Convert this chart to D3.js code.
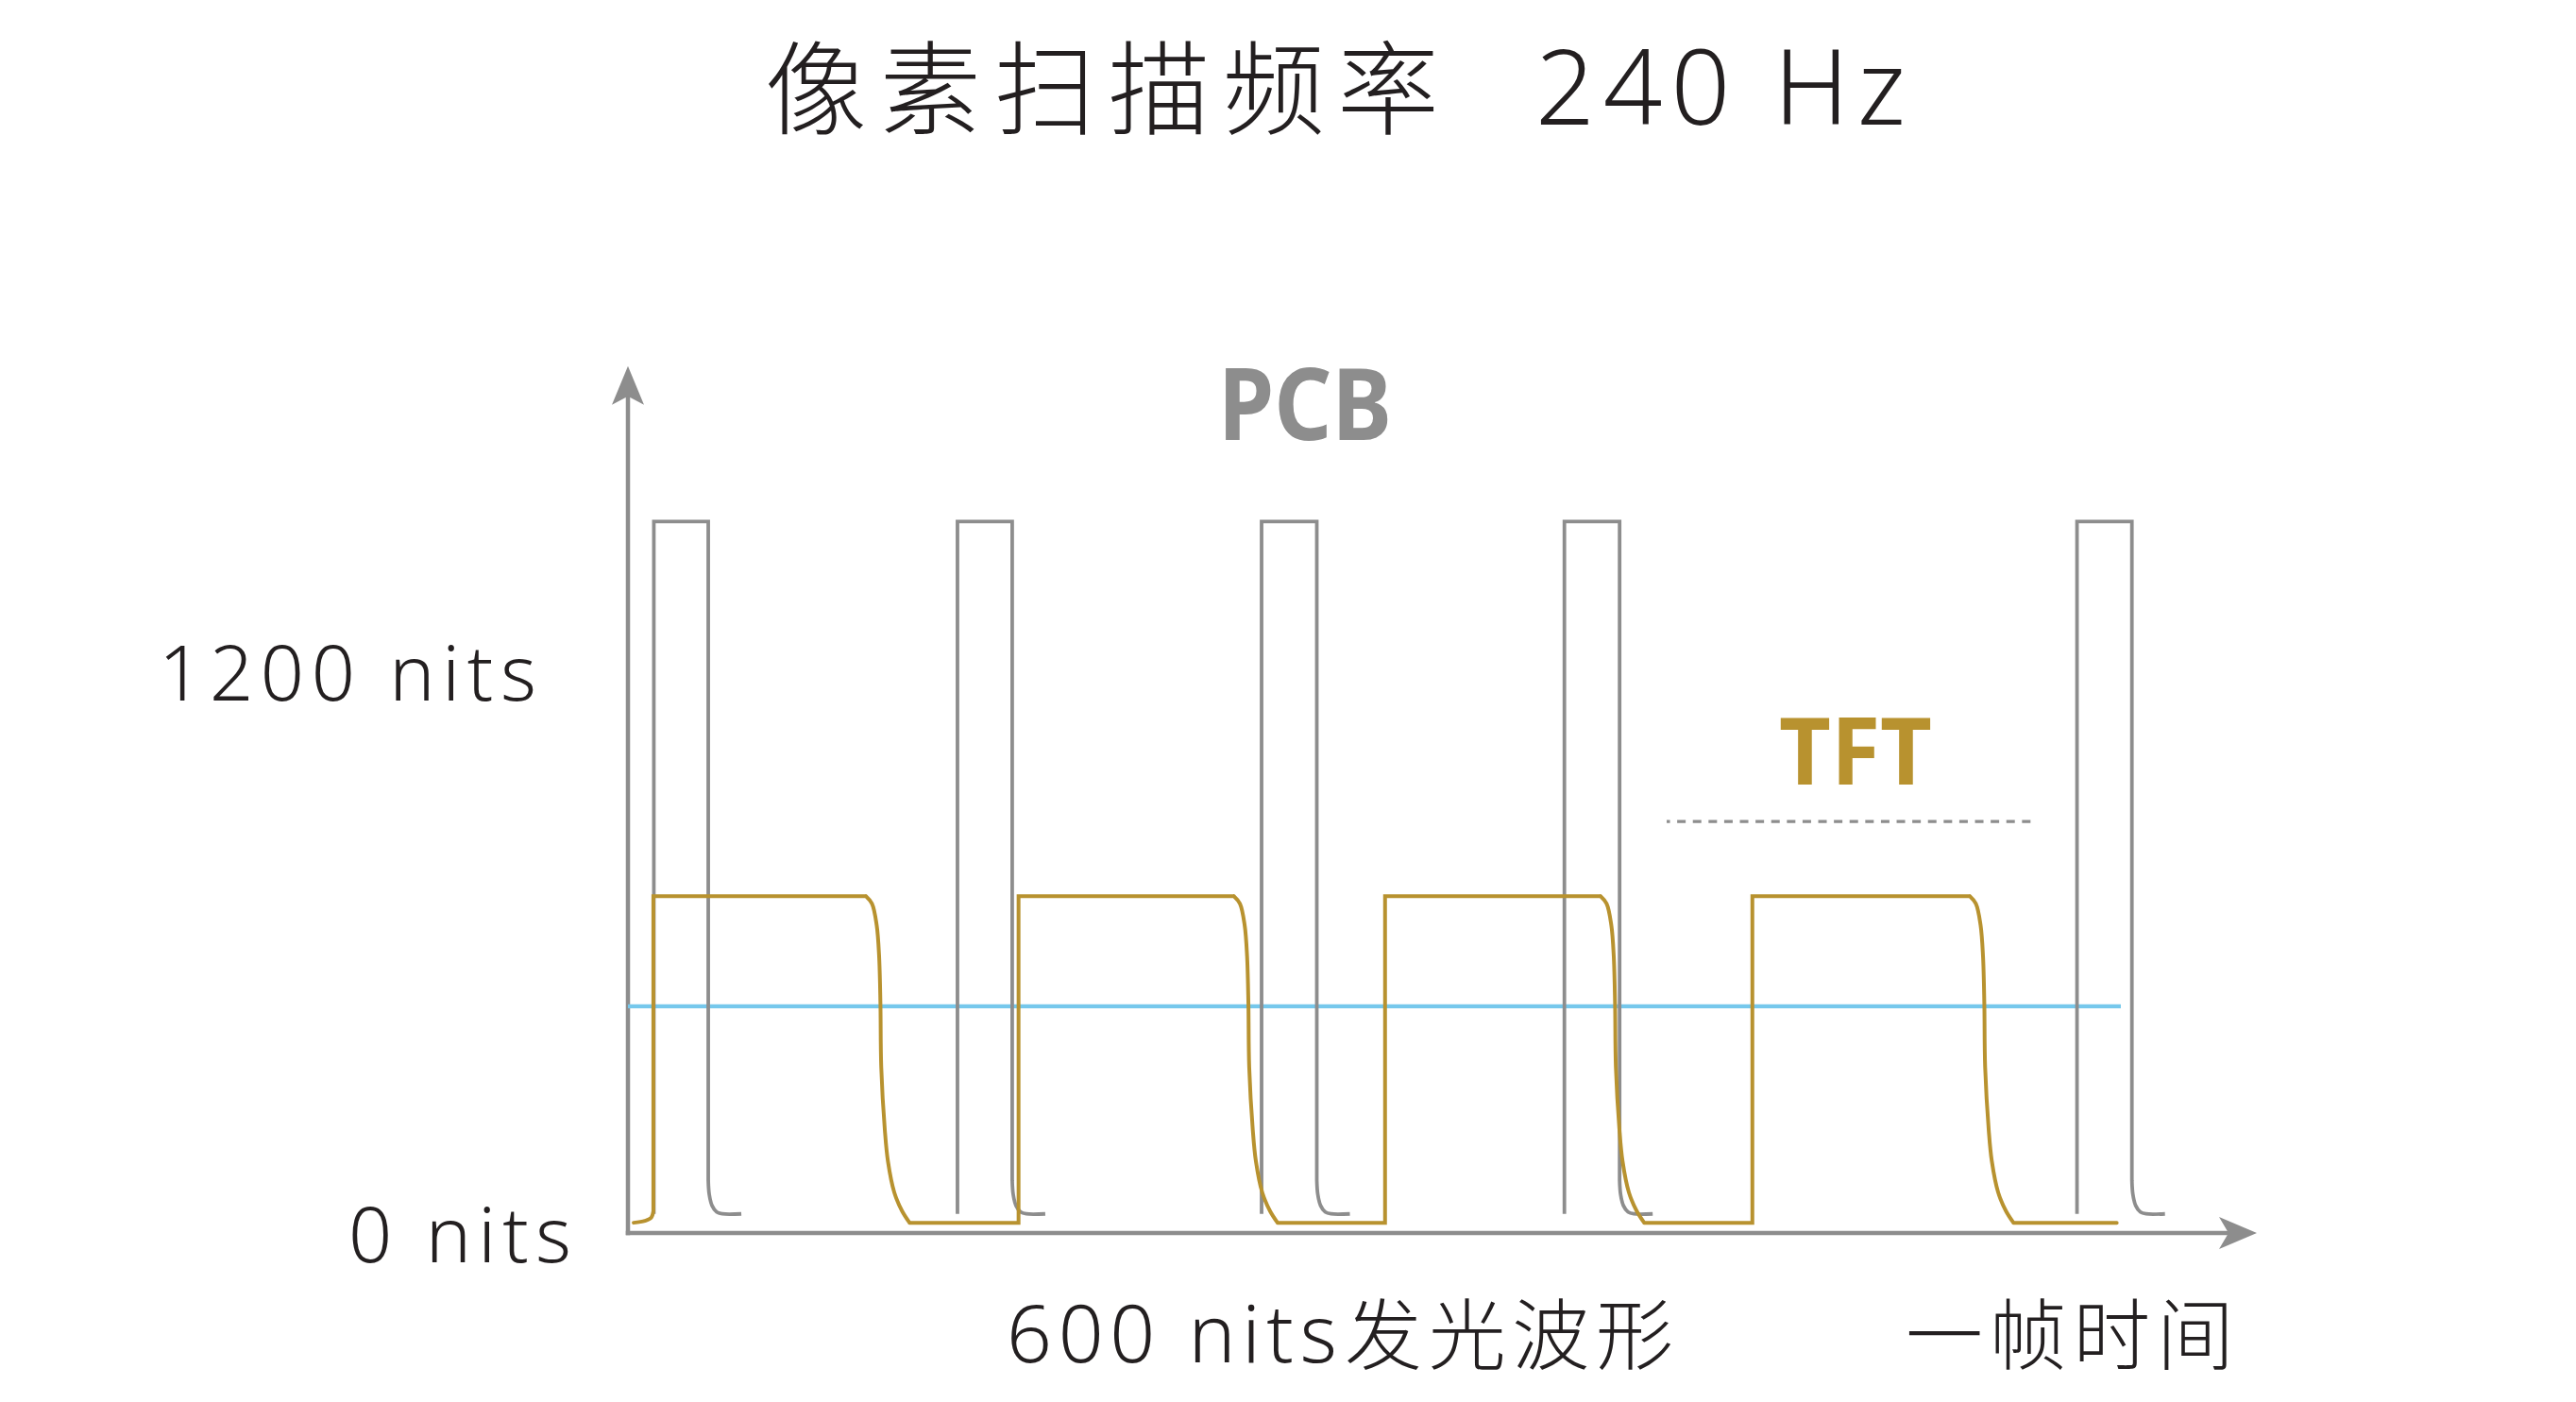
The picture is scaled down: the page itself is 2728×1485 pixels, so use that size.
<!DOCTYPE html>
<html>
<head>
<meta charset="utf-8">
<script src="https://cdn.jsdelivr.net/npm/d3@7"></script>
<style>
html, body { margin: 0; padding: 0; background: #ffffff; }
svg { display: block; }
</style>
</head>
<body>
<svg id="chart" width="2728" height="1485"></svg>
<script>
// ---------------- DATA ----------------
// y axis: brightness in nits; x axis: time (arbitrary units across one frame, 0..1000)
const yTickValues = [0, 1200];
const yTickLabels = ["0 nits", "1200 nits"];
const yAxisMax = 1858;          // where the y-axis arrow ends
const xAxisMax = 1000;          // where the x-axis arrow ends

// PCB (grey) pulses
const pcbStart = [15.9, 202.3, 389.0, 574.9, 889.6];
const pcbEnd   = [49.3, 235.9, 422.9, 608.8, 923.3];
const pcbPeak  = 1525;
const pcbBase  = 41;
// decay tail after each pulse end: [time offset, nits]
const pcbTail  = [[0, 113], [0.6, 83], [2.3, 59], [5.2, 45], [8.7, 41], [20.3, 41]];

// TFT (gold) waveform
const tftRise = [15.6, 239.8, 464.8, 690.3];
const tftFall = [146.1, 372.0, 597.1, 823.8];
const tftHigh = 722;
const tftLow  = 22;
const tftEnd  = 914;
// initial hook before first rise: [time, nits]
const tftLead = [[3.5, 22], [10.4, 26], [14.3, 33], [15.6, 47]];
// shape of each falling edge: [time offset from fall start, nits]
const tftFallShape = [[0, 722], [3.7, 706], [6.6, 660], [8.1, 593], [8.9, 492], [9.4, 356],
                      [11.6, 221], [13.5, 154], [17.4, 87], [22.2, 47], [26.8, 22]];

// 600 nits average (blue) line
const avgLevel = 486;
const avgEnd   = 916.5;

// dotted reference line under "TFT"
const dashLevel = 882;
const dashRange = [637.7, 863.2];

// ---------------- STYLE ----------------
const GREY = "#8d8d8d";
const GOLD = "#b8922f";
const BLUE = "#76c8ec";
const TEXT = "#231f20";
const FONT = "'Noto Sans', 'Noto Sans CJK SC', sans-serif";

// ---------------- DRAW ----------------
const svg = d3.select("#chart");
svg.append("rect").attr("width", 2728).attr("height", 1485).attr("fill", "#ffffff");

const x = d3.scaleLinear().domain([0, 1000]).range([665, 2390]);
const y = d3.scaleLinear().domain([0, 1200]).range([1306, 713]);

const lin = d3.line().x(d => x(d[0])).y(d => y(d[1]));
const smooth = d3.line().x(d => x(d[0])).y(d => y(d[1])).curve(d3.curveCatmullRom.alpha(0.5));

// --- axes ---
const gAxes = svg.append("g");
const x0 = x(0), y0 = y(0), yTip = y(yAxisMax), xTip = x(xAxisMax);
gAxes.append("line")
  .attr("x1", x0).attr("x2", x0).attr("y1", y0 + 2.25).attr("y2", yTip + 12)
  .attr("stroke", GREY).attr("stroke-width", 4.5);
gAxes.append("path")
  .attr("d", d3.line()([[x0, yTip], [x0 - 17, yTip + 41], [x0, yTip + 32], [x0 + 17, yTip + 41]]) + "Z")
  .attr("fill", GREY);
gAxes.append("line")
  .attr("x1", x0 - 2.25).attr("x2", xTip - 12).attr("y1", y0).attr("y2", y0)
  .attr("stroke", GREY).attr("stroke-width", 4.5);
gAxes.append("path")
  .attr("d", d3.line()([[xTip, y0], [xTip - 40, y0 - 17], [xTip - 30, y0], [xTip - 40, y0 + 17]]) + "Z")
  .attr("fill", GREY);

// --- blue 600 nits line ---
svg.append("path")
  .attr("d", lin([[0, avgLevel], [avgEnd, avgLevel]]))
  .attr("fill", "none").attr("stroke", BLUE).attr("stroke-width", 4.2);

// --- PCB pulses ---
const gPcb = svg.append("g");
pcbStart.forEach((s, i) => {
  const e = pcbEnd[i];
  const straight = [[s, pcbBase], [s, pcbPeak], [e, pcbPeak], [e, pcbTail[0][1]]];
  const tail = pcbTail.map(([dt, v]) => [e + dt, v]);
  gPcb.append("path")
    .attr("d", lin(straight) + smooth(tail))
    .attr("fill", "none").attr("stroke", GREY).attr("stroke-width", 3.8)
    .attr("stroke-linejoin", "miter").attr("stroke-linecap", "butt");
});

// --- TFT waveform ---
let dTft = smooth(tftLead);
let run = [tftLead[tftLead.length - 1]];
tftRise.forEach((r, i) => {
  const last = run[run.length - 1];
  if (last[0] !== r) run.push([r, last[1]]);
  run.push([r, tftHigh]);
  run.push([tftFall[i], tftHigh]);
  dTft += lin(run);
  const fall = tftFallShape.map(([dt, v]) => [tftFall[i] + dt, v]);
  dTft += smooth(fall);
  run = [fall[fall.length - 1]];
});
run.push([tftEnd, tftLow]);
dTft += lin(run);
svg.append("path")
  .attr("d", dTft)
  .attr("fill", "none").attr("stroke", GOLD).attr("stroke-width", 4)
  .attr("stroke-linejoin", "miter").attr("stroke-linecap", "round");

// --- dotted line ---
svg.append("path")
  .attr("d", lin([[dashRange[0], dashLevel], [dashRange[1], dashLevel]]))
  .attr("fill", "none").attr("stroke", GREY).attr("stroke-width", 3.4)
  .attr("stroke-dasharray", "9 7.6").attr("stroke-dashoffset", 5.5);

// --- y tick labels ---
const tickLayout = { 0: { x: 369, len: 236, dy: 31 }, 1200: { x: 168, len: 400, dy: 29 } };
yTickValues.forEach((v, i) => {
  const L = tickLayout[v];
  svg.append("text")
    .attr("x", L.x).attr("y", y(v) + L.dy)
    .attr("textLength", L.len).attr("lengthAdjust", "spacing")
    .attr("font-family", FONT).attr("font-weight", 300).attr("font-size", 81)
    .attr("fill", TEXT).text(yTickLabels[i]);
});

// --- title ---
const title = svg.append("text")
  .attr("font-family", FONT).attr("font-weight", 300).attr("fill", TEXT);
title.append("tspan").attr("x", 810).attr("y", 134).attr("font-size", 108)
  .attr("textLength", 714).attr("lengthAdjust", "spacing").text("像素扫描频率");
title.append("tspan").attr("x", 1626).attr("y", 132).attr("font-size", 110)
  .attr("textLength", 392).attr("lengthAdjust", "spacing").text("240 Hz");

// --- bottom labels ---
const lab = svg.append("text")
  .attr("font-family", FONT).attr("font-weight", 300).attr("fill", TEXT);
lab.append("tspan").attr("x", 1066).attr("y", 1443).attr("font-size", 84)
  .attr("textLength", 350).attr("lengthAdjust", "spacing").text("600 nits");
lab.append("tspan").attr("x", 1424).attr("y", 1444).attr("font-size", 82)
  .attr("textLength", 348).attr("lengthAdjust", "spacing").text("发光波形");

svg.append("text")
  .attr("x", 2018).attr("y", 1444)
  .attr("font-family", FONT).attr("font-weight", 300).attr("font-size", 82)
  .attr("textLength", 348).attr("lengthAdjust", "spacing")
  .attr("fill", TEXT).text("一帧时间");

// --- series labels ---
svg.append("text")
  .attr("x", 1290).attr("y", 466)
  .attr("font-family", FONT).attr("font-weight", 700).attr("font-size", 105)
  .attr("textLength", 184).attr("lengthAdjust", "spacingAndGlyphs")
  .attr("fill", GREY).text("PCB");
svg.append("text")
  .attr("x", 1884).attr("y", 831)
  .attr("font-family", FONT).attr("font-weight", 700).attr("font-size", 98)
  .attr("textLength", 162).attr("lengthAdjust", "spacingAndGlyphs")
  .attr("fill", GOLD).text("TFT");
</script>
</body>
</html>
